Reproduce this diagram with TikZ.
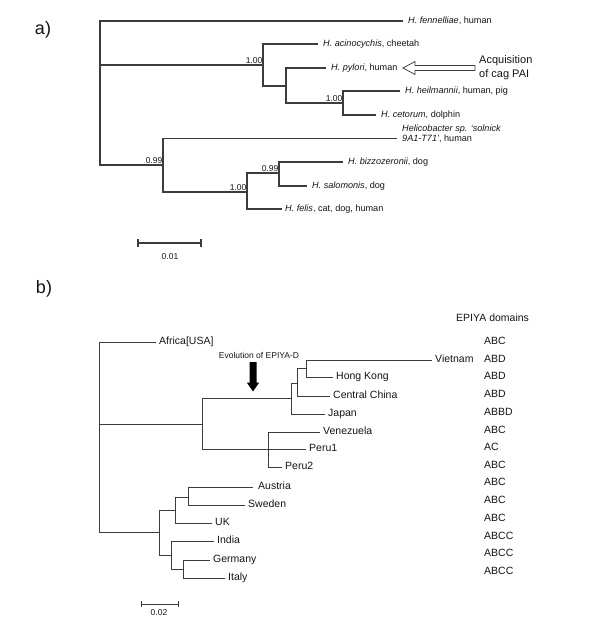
\documentclass[tikz,border=0pt]{standalone}
\usepackage{fontspec}
\setmainfont{Liberation Sans}
\usetikzlibrary{calc}
\definecolor{treeline}{HTML}{3C3C3C}
\definecolor{ink}{HTML}{141414}
\begin{document}
\begin{tikzpicture}[x=1pt,y=-1pt,
  branchA/.style={draw=treeline,line width=1.05pt,line join=miter},
  branchB/.style={draw=treeline,line width=0.9pt,line join=miter},
  leafA/.style={anchor=west,inner xsep=5pt,inner ysep=0pt,text=ink,font=\fontsize{9.1}{10.6}\selectfont,text height=0.72em,text depth=0.2em},
  leafB/.style={anchor=west,inner xsep=3pt,inner ysep=0pt,text=ink,font=\fontsize{10.5}{12}\selectfont,text height=0.72em,text depth=0.2em},
  supportlbl/.style={anchor=south east,inner xsep=0.5pt,inner ysep=0.8pt,text=ink,font=\fontsize{8.5}{9}\selectfont},
  domtext/.style={anchor=west,inner sep=0pt,text=ink,font=\fontsize{10.5}{12}\selectfont,text height=0.72em,text depth=0.2em},
  panellbl/.style={inner sep=0pt,text=ink,font=\fontsize{18}{20}\selectfont},
  smalltext/.style={inner sep=0pt,text=ink,font=\fontsize{8.5}{10}\selectfont}]
\useasboundingbox (0,0) rectangle (600,634);

% ---------------- panel a ----------------
\node[panellbl] (pa) at (43,30) {a)};
\coordinate (aroot) at (100,65);
\coordinate (an1) at (263,65);
\coordinate (an2) at (286,86);
\coordinate (an3) at (343,103);
\coordinate (an4) at (163,165);
\coordinate (an5) at (247,192);
\coordinate (an6) at (279,173);

\node[leafA] (fen) at (403,21) {\textit{H. fennelliae}, human};
\node[leafA] (aci) at (318,44) {\textit{H. acinocychis}, cheetah};
\node[leafA] (pyl) at (326,68) {\textit{H. pylori}, human};
\node[leafA] (hei) at (400,91) {\textit{H. heilmannii}, human, pig};
\node[leafA] (cet) at (376,115) {\textit{H. cetorum}, dolphin};
\node[leafA,align=left] (sol) at (397,138.5) {\textit{Helicobacter sp. ‘solnick}\\[-0.5pt]\textit{9A1-T71’}, human};
\node[leafA] (biz) at (343,162) {\textit{H. bizzozeronii}, dog};
\node[leafA] (sal) at (307,186) {\textit{H. salomonis}, dog};
\node[leafA,inner xsep=3pt] (fel) at (282,209) {\textit{H. felis}, cat, dog, human};

\draw[branchA] (aroot) |- (fen.west);
\draw[branchA] (aroot) |- (an4);
\draw[branchA] (aroot) -- (an1);
\draw[branchA] (an1) |- (aci.west);
\draw[branchA] (an1) |- (an2);
\draw[branchA] (an2) |- (pyl.west);
\draw[branchA] (an2) |- (an3);
\draw[branchA] (an3) |- (hei.west);
\draw[branchA] (an3) |- (cet.west);
\draw[branchA] (an4) |- (sol.west);
\draw[branchA] (an4) |- (an5);
\draw[branchA] (an5) |- (an6);
\draw[branchA] (an5) |- (fel.west);
\draw[branchA] (an6) |- (biz.west);
\draw[branchA] (an6) |- (sal.west);

\node[supportlbl] (s1) at (an1) {1.00};
\node[supportlbl] (s2) at (an3) {1.00};
\node[supportlbl] (s3) at (an4) {0.99};
\node[supportlbl] (s4) at (an5) {1.00};
\node[supportlbl] (s5) at (an6) {0.99};

% hollow arrow: acquisition of cag PAI
\node[anchor=west,align=left,inner sep=0pt,text=ink,font=\fontsize{11}{13.5}\selectfont] (acq) at (479,67.5) {Acquisition\\of cag PAI};
\draw[draw=treeline,line width=0.75pt,fill=white,line join=miter]
  (403,68) -- (415,61.5) -- (415,65.5) -- (475,65.5) -- (475,70.5) -- (415,70.5) -- (415,74.5) -- cycle;

% scale bar a
\coordinate (sa1) at (138,243);
\coordinate (sa2) at (201,243);
\draw[branchA] (sa1) -- (sa2);
\draw[branchA] ($(sa1)+(0,-4)$) -- ($(sa1)+(0,4)$);
\draw[branchA] ($(sa2)+(0,-4)$) -- ($(sa2)+(0,4)$);
\node[smalltext] (sal01) at (170,257) {0.01};

% ---------------- panel b ----------------
\node[panellbl] (pb) at (44,289) {b)};
\coordinate (broot) at (99,424);
\coordinate (bn1) at (202,424);
\coordinate (bn2) at (291,398);
\coordinate (bn3) at (297,383);
\coordinate (bn4) at (306,368);
\coordinate (bn5) at (268,449);
\coordinate (bn6) at (159,532);
\coordinate (bn7) at (175,510);
\coordinate (bn9) at (188,497);
\coordinate (bn8) at (171,555);
\coordinate (bn10) at (183,569);

\node[leafB] (afr) at (156,342) {Africa[USA]};
\node[leafB] (vie) at (432,360) {Vietnam};
\node[leafB] (hk) at (333,377) {Hong Kong};
\node[leafB] (cc) at (330,396) {Central China};
\node[leafB] (jap) at (325,414) {Japan};
\node[leafB] (ven) at (320,432) {Venezuela};
\node[leafB] (pe1) at (306,449) {Peru1};
\node[leafB] (pe2) at (282,467) {Peru2};
\node[leafB,inner xsep=5pt] (aut) at (253,487) {Austria};
\node[leafB] (swe) at (245,505) {Sweden};
\node[leafB] (uk) at (212,523) {UK};
\node[leafB] (ind) at (214,541) {India};
\node[leafB] (ger) at (210,560) {Germany};
\node[leafB] (ita) at (225,578) {Italy};

\draw[branchB] (broot) |- (afr.west);
\draw[branchB] (broot) -- (bn1);
\draw[branchB] (broot) |- (bn6);
\draw[branchB] (bn1) |- (bn2);
\draw[branchB] (bn1) |- (bn5);
\draw[branchB] (bn2) |- (bn3);
\draw[branchB] (bn2) |- (jap.west);
\draw[branchB] (bn3) |- (bn4);
\draw[branchB] (bn3) |- (cc.west);
\draw[branchB] (bn4) |- (vie.west);
\draw[branchB] (bn4) |- (hk.west);
\draw[branchB] (bn5) |- (ven.west);
\draw[branchB] (bn5) -- (pe1.west);
\draw[branchB] (bn5) |- (pe2.west);
\draw[branchB] (bn6) |- (bn7);
\draw[branchB] (bn6) |- (bn8);
\draw[branchB] (bn7) |- (bn9);
\draw[branchB] (bn7) |- (uk.west);
\draw[branchB] (bn9) |- (aut.west);
\draw[branchB] (bn9) |- (swe.west);
\draw[branchB] (bn8) |- (ind.west);
\draw[branchB] (bn8) |- (bn10);
\draw[branchB] (bn10) |- (ger.west);
\draw[branchB] (bn10) |- (ita.west);

% evolution arrow
\node[smalltext] (evo) at (259,355) {Evolution of EPIYA-D};
\fill[black] (249.5,362) -- (256.5,362) -- (256.5,382.5) -- (259.2,382.5) -- (253,391.5) -- (246.8,382.5) -- (249.5,382.5) -- cycle;

% EPIYA domains column
\node[domtext] (hdr) at (456,319) {EPIYA domains};
\node[domtext] (d1) at (484,342) {ABC};
\node[domtext] (d2) at (484,360) {ABD};
\node[domtext] (d3) at (484,377) {ABD};
\node[domtext] (d4) at (484,395) {ABD};
\node[domtext] (d5) at (484,413) {ABBD};
\node[domtext] (d6) at (484,431) {ABC};
\node[domtext] (d7) at (484,448) {AC};
\node[domtext] (d8) at (484,466) {ABC};
\node[domtext] (d9) at (484,483) {ABC};
\node[domtext] (d10) at (484,501) {ABC};
\node[domtext] (d11) at (484,519) {ABC};
\node[domtext] (d12) at (484,537) {ABCC};
\node[domtext] (d13) at (484,554) {ABCC};
\node[domtext] (d14) at (484,572) {ABCC};

% scale bar b
\coordinate (sb1) at (141,604);
\coordinate (sb2) at (178,604);
\draw[branchB] (sb1) -- (sb2);
\draw[branchB] ($(sb1)+(0,-3)$) -- ($(sb1)+(0,3)$);
\draw[branchB] ($(sb2)+(0,-3)$) -- ($(sb2)+(0,3)$);
\node[smalltext] (sbl) at (159,613) {0.02};
\end{tikzpicture}
\end{document}
